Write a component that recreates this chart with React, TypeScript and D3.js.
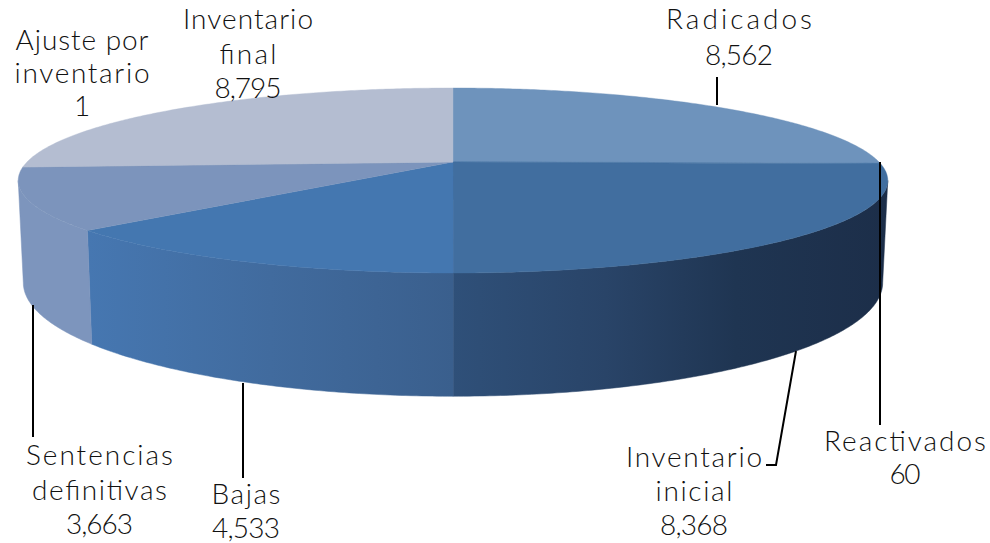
import React from "react";
import * as d3 from "d3";

const categories = ["Radicados", "Reactivados", "Inventario inicial", "Bajas", "Sentencias definitivas", "Ajuste por inventario", "Inventario final"];
const values = [8562, 60, 8368, 4533, 3663, 1, 8795];
const topColors = ["#6e93bc", "#4a76a6", "#416e9f", "#4477b0", "#7c94bc", "#9aa8c4", "#b4bdd1"];
const sideFills = ["#5f7fa5", "#2c3f5c", "url(#sideInicial)", "url(#sideBajas)", "#7d95bd", "#8fa0c0", "#a0adc6"];
const labelLines = [
  ["Radicados", "8,562"],
  ["Reactivados", "60"],
  ["Inventario", "inicial", "8,368"],
  ["Bajas", "4,533"],
  ["Sentencias", "definitivas", "3,663"],
  ["Ajuste por", "inventario", "1"],
  ["Inventario", "final", "8,795"],
];
const lineWidths = [
  [146, 68],
  [162, 31],
  [136, 77, 68],
  [69, 68],
  [147, 135, 67],
  [133, 135, 10],
  [130, 57, 67],
];

// layout of labels: centre x, first baseline, line gap
const labelX = [739, 905, 694, 246, 99.5, 82, 248];
const labelY = [29, 451, 467, 504, 465, 50, 29];
const labelGap = [36, 33, 34, 33.5, 34.5, 33, 34.5];
const leaders = [
  [[717, 77], [717, 105]],
  [[880, 162], [880, 425]],
  [[796, 351], [776, 465], [766, 465]],
  [[243, 383], [243, 478]],
  [[33, 305], [33, 437]],
];

const W = 990, H = 543, CX = 453;
const top = { cy: 162, a: 88.8, r: 426, k: 0.2 };
const bottom = { cy: 260, a: 109, r: 421, k: 0.2 };
type Rim = typeof top;

const project = (rim: Rim, t: number): [number, number] => {
  const u = Math.sin(t), v = Math.cos(t), d = 1 + rim.k * v;
  return [CX + (rim.r * u) / d, rim.cy - (rim.a * v) / d];
};
const span = (t0: number, t1: number) => {
  const n = Math.max(2, Math.ceil(Math.abs(t1 - t0) / 0.01));
  return d3.range(n + 1).map((i) => t0 + ((t1 - t0) * i) / n);
};
const line = d3.line<[number, number]>();

const pieArcs = d3.pie<number>().sort(null).startAngle(0).endAngle(2 * Math.PI)(values);

const topPath = (a0: number, a1: number) =>
  line([[CX, top.cy], ...span(a0, a1).map((t) => project(top, t))])! + "Z";

// the rim's silhouette turns where cos(t) = -k
const vis0 = Math.acos(-top.k);
const vis1 = 2 * Math.PI - vis0;

const sidePath = (a0: number, a1: number) => {
  const s = Math.max(a0, vis0), e = Math.min(a1, vis1);
  if (e <= s) return null;
  const ts = span(s, e);
  return line([...ts.map((t) => project(top, t)), ...ts.slice().reverse().map((t) => project(bottom, t))])! + "Z";
};

export default function App() {
  return (
    <svg width={W} height={H} viewBox={`0 0 ${W} ${H}`} style={{ position: "absolute", left: 0, top: 0, background: "#fff" }}>
      <defs>
        <linearGradient id="sideInicial" gradientUnits="userSpaceOnUse" x1={453} x2={888} y1={0} y2={0}>
          <stop offset="0" stopColor="#2f5079" />
          <stop offset="0.35" stopColor="#294468" />
          <stop offset="0.65" stopColor="#1f3552" />
          <stop offset="1" stopColor="#1c2e49" />
        </linearGradient>
        <linearGradient id="sideBajas" gradientUnits="userSpaceOnUse" x1={88} x2={453} y1={0} y2={0}>
          <stop offset="0" stopColor="#4677b1" />
          <stop offset="0.5" stopColor="#416b9e" />
          <stop offset="1" stopColor="#3a5f8d" />
        </linearGradient>
      </defs>
      {pieArcs.map((d, i) => {
        const p = sidePath(d.startAngle, d.endAngle);
        return p ? <path key={i} d={p} fill={sideFills[i]} stroke={sideFills[i]} strokeWidth={0.5} /> : null;
      })}
      {pieArcs.map((d, i) => (
        <path key={categories[i]} d={topPath(d.startAngle, d.endAngle)} fill={topColors[i]} stroke={topColors[i]} strokeWidth={0.4} />
      ))}
      {leaders.map((pts, i) => (
        <path key={i} d={line(pts as [number, number][])!} fill="none" stroke="#000" strokeWidth={2} />
      ))}
      {labelLines.map((lines, i) =>
        lines.map((s, j) => (
          <text
            key={`${i}-${j}`}
            x={labelX[i]}
            y={labelY[i] + j * labelGap[i]}
            textAnchor="middle"
            fontFamily="Lato, sans-serif"
            fontWeight={300}
            fontSize={28}
            fill="#111"
            textLength={s.length > 1 ? lineWidths[i][j] : undefined}
            lengthAdjust="spacing"
          >
            {s}
          </text>
        ))
      )}
    </svg>
  );
}
